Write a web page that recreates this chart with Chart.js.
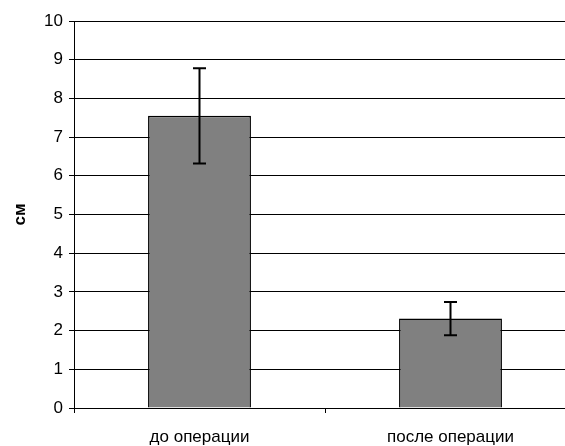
<!DOCTYPE html>
<html>
<head>
<meta charset="utf-8">
<script src="https://cdn.jsdelivr.net/npm/chart.js@4/dist/chart.umd.min.js"></script>
<style>
  html, body { margin: 0; padding: 0; background: #fff; overflow: hidden; }
  #wrap { position: absolute; left: 0; top: 0; width: 590px; height: 446px; }
</style>
</head>
<body>
<div id="wrap"><canvas id="chart"></canvas></div>
<script>
const categories = ['до операции', 'после операции'];
const means = [7.55, 2.31];
const errors = [1.23, 0.43];
const yTicks = [0, 1, 2, 3, 4, 5, 6, 7, 8, 9, 10];

// error bars drawn on top of the bars
const errorBars = {
  id: 'errorBars',
  afterDatasetsDraw(chart) {
    const ctx = chart.ctx;
    const y = chart.scales.y;
    const meta = chart.getDatasetMeta(0);
    ctx.save();
    ctx.strokeStyle = '#000';
    ctx.lineWidth = 2;
    meta.data.forEach((bar, i) => {
      const top = y.getPixelForValue(means[i] + errors[i]);
      const bot = y.getPixelForValue(means[i] - errors[i]);
      ctx.beginPath();
      ctx.moveTo(bar.x, top); ctx.lineTo(bar.x, bot);
      ctx.moveTo(bar.x - 6.5, top); ctx.lineTo(bar.x + 6.5, top);
      ctx.moveTo(bar.x - 6.5, bot); ctx.lineTo(bar.x + 6.5, bot);
      ctx.stroke();
    });
    ctx.restore();
  }
};

const font = { family: 'Liberation Sans, Arial', size: 17 };

new Chart(document.getElementById('chart').getContext('2d'), {
  type: 'bar',
  data: {
    labels: categories,
    datasets: [{
      data: means,
      backgroundColor: '#808080',
      borderColor: '#000',
      borderWidth: 1.5,
      categoryPercentage: 1,
      barPercentage: 0.41
    }]
  },
  options: {
    responsive: true,
    maintainAspectRatio: false,
    animation: false,
    layout: { padding: { left: 0, right: 14, top: 21, bottom: 0 } },
    plugins: { legend: { display: false }, tooltip: { enabled: false } },
    scales: {
      x: {
        afterFit(s) { s.height = 38; },
        grid: { offset: true, drawOnChartArea: false, color: '#000', tickLength: 5, tickColor: '#000' },
        border: { color: '#000', width: 1 },
        ticks: { color: '#000', font: font, padding: 14 }
      },
      y: {
        min: 0,
        max: 10,
        afterFit(s) { s.width = 74; },
        afterBuildTicks(s) { s.ticks = yTicks.map(v => ({ value: v })); },
        grid: { color: '#000', lineWidth: 1, tickLength: 5, tickColor: '#000' },
        border: { color: '#000', width: 1 },
        ticks: { color: '#000', font: font, padding: 6 },
        title: {
          display: true,
          text: 'см',
          color: '#000',
          font: { family: 'Liberation Sans, Arial', size: 17, weight: 'bold' },
          padding: { top: 10, bottom: 0 }
        }
      }
    }
  },
  plugins: [errorBars]
});
</script>
</body>
</html>
